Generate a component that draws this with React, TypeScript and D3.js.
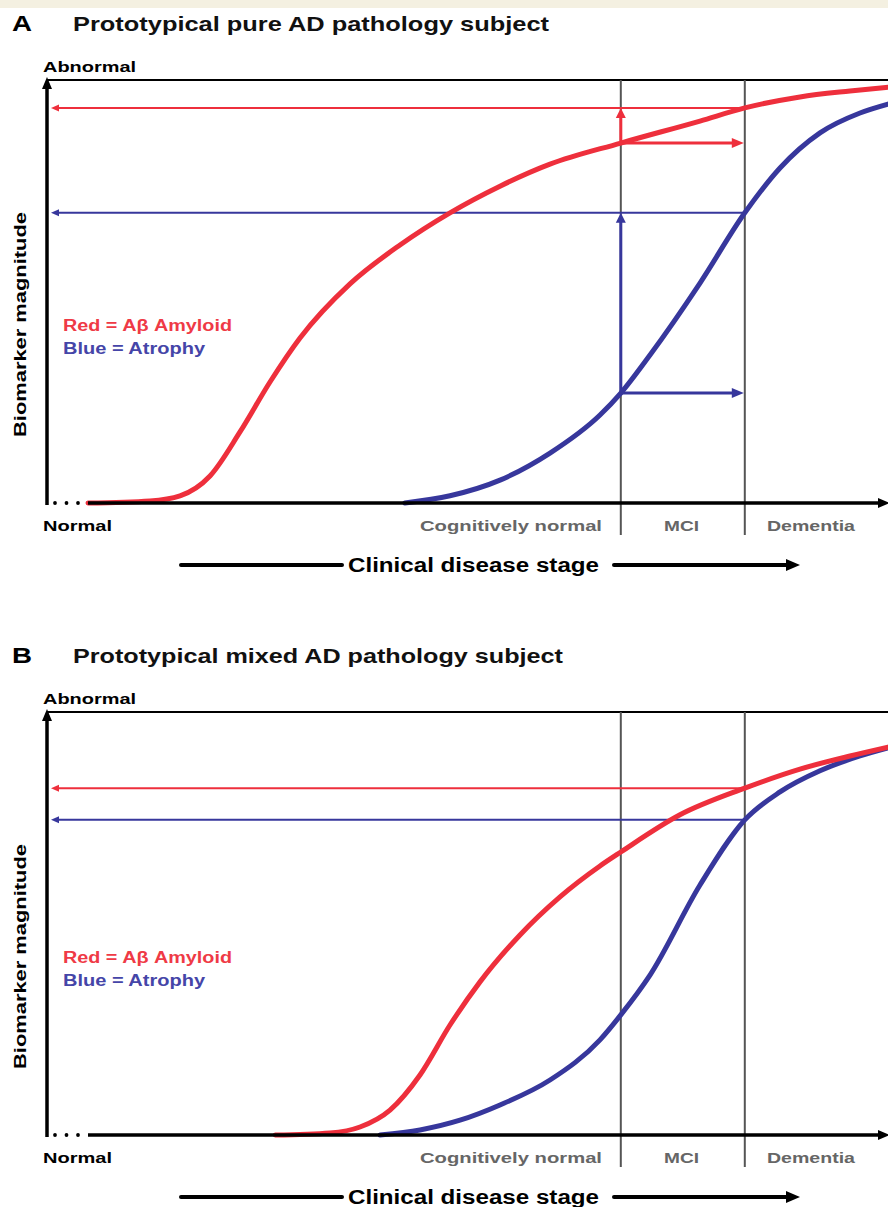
import React from "react";
import * as d3 from "d3";

// ---------- data ----------
const panelLetters = ["A", "B"];
const panelTitles = [
  "Prototypical pure AD pathology subject",
  "Prototypical mixed AD pathology subject",
];
const stageLabels = ["Cognitively normal", "MCI", "Dementia"];
const stageBounds = [66.6, 82.1]; // MCI onset, Dementia onset (stage units 0..100)
const legendLabels = ["Red = A\u03b2 Amyloid", "Blue = Atrophy"];
const yAxisTop = "Abnormal";
const yAxisBottom = "Normal";
const yTitle = "Biomarker magnitude";
const xTitle = "Clinical disease stage";

// Panel A (pure AD)
const pureAmyloidX = [0, 7.75, 11.5, 15.25, 19, 22.75, 26.5, 32.75, 39, 45.25, 51.5, 57.75, 66.6, 76.5, 82.1, 89, 95.25, 100];
const pureAmyloidY = [0, 0.005, 0.017, 0.064, 0.168, 0.286, 0.39, 0.518, 0.61, 0.686, 0.749, 0.801, 0.851, 0.903, 0.934, 0.96, 0.974, 0.983];
const pureAtrophyX = [39.6, 45.25, 51.5, 57.75, 64, 66.6, 70.25, 76.5, 82.1, 86.5, 91.5, 96.5, 100];
const pureAtrophyY = [0, 0.017, 0.054, 0.118, 0.208, 0.26, 0.35, 0.52, 0.686, 0.792, 0.875, 0.922, 0.943];

// Panel B (mixed AD)
const mixedAmyloidX = [23.4, 30.25, 34, 37.75, 41.5, 45.25, 49, 54, 59, 64, 66.6, 74, 82.1, 89, 95.25, 100];
const mixedAmyloidY = [0, 0.005, 0.019, 0.059, 0.142, 0.26, 0.362, 0.473, 0.563, 0.636, 0.669, 0.757, 0.82, 0.865, 0.896, 0.917];
const mixedAtrophyX = [36.5, 41.5, 46.5, 51.5, 57.75, 64, 66.6, 70.25, 76.5, 82.1, 86.5, 91.5, 96.5, 100];
const mixedAtrophyY = [0, 0.012, 0.035, 0.071, 0.13, 0.225, 0.284, 0.378, 0.591, 0.745, 0.811, 0.861, 0.896, 0.915];

// Arrow levels (biomarker at MCI onset -> at dementia onset)
const pureAmyloidAtMCI = 0.851;
const pureAmyloidAtDementia = 0.934;
const pureAtrophyAtMCI = 0.26;
const pureAtrophyAtDementia = 0.686;
const mixedAmyloidAtDementia = 0.82;
const mixedAtrophyAtDementia = 0.745;

// ---------- style ----------
const RED = "#ee2f3c";
const BLUE = "#37379c";
const LEG_RED = "#ef3a46";
const LEG_BLUE = "#4545a8";
const GREY = "#555";
const FONT = "'Liberation Sans', Arial, Helvetica, sans-serif";

const W = 888;
const H = 1207;

const zip = (xs: number[], ys: number[]) => xs.map((x, i) => [x, ys[i]] as [number, number]);

function Arrow({ x1, y1, x2, y2, color, width, head }: any) {
  const ang = Math.atan2(y2 - y1, x2 - x1);
  const L = head[0], Hw = head[1];
  const bx = x2 - L * Math.cos(ang), by = y2 - L * Math.sin(ang);
  const px = -Math.sin(ang) * Hw, py = Math.cos(ang) * Hw;
  return (
    <g>
      <line x1={x1} y1={y1} x2={bx + 1 * Math.cos(ang)} y2={by + 1 * Math.sin(ang)} stroke={color} strokeWidth={width} />
      <path d={`M${x2},${y2}L${bx + px},${by + py}L${bx - px},${by - py}Z`} fill={color} />
    </g>
  );
}

function T({ children, tl, ...rest }: any) {
  return (
    <text fontFamily={FONT} fontWeight="bold" textLength={tl} lengthAdjust="spacingAndGlyphs" {...rest}>
      {children}
    </text>
  );
}

function Panel({ idx, offY }: { idx: number; offY: number }) {
  const x = d3.scaleLinear().domain([0, 100]).range([88, 888]);
  const y = d3.scaleLinear().domain([0, 1]).range([503, 80]);
  const line = d3
    .line<[number, number]>()
    .x((d) => x(d[0]))
    .y((d) => y(d[1]))
    .curve(d3.curveMonotoneX);

  const amyloid = idx === 0 ? zip(pureAmyloidX, pureAmyloidY) : zip(mixedAmyloidX, mixedAmyloidY);
  const atrophy = idx === 0 ? zip(pureAtrophyX, pureAtrophyY) : zip(mixedAtrophyX, mixedAtrophyY);
  const redLevel = idx === 0 ? pureAmyloidAtDementia : mixedAmyloidAtDementia;
  const blueLevel = idx === 0 ? pureAtrophyAtDementia : mixedAtrophyAtDementia;

  const xM = x(stageBounds[0]);
  const xD = x(stageBounds[1]);
  const axisX = 47;
  const axisY = y(0);
  const topY = y(1);

  return (
    <g transform={`translate(0,${offY})`}>
      <T x={12} y={31} fontSize={22} fill="#000" tl={20}>
        {panelLetters[idx]}
      </T>
      <T x={73} y={31} fontSize={21} fill="#111" tl={idx === 0 ? 476 : 490}>
        {panelTitles[idx]}
      </T>
      <T x={43} y={72} fontSize={14.5} fill="#000" tl={93}>
        {yAxisTop}
      </T>

      {/* top frame line */}
      <line x1={axisX} y1={topY} x2={W} y2={topY} stroke="#000" strokeWidth={2} />

      {/* stage boundaries */}
      {[xM, xD].map((sx, i) => (
        <line key={i} x1={sx} y1={topY} x2={sx} y2={535} stroke={GREY} strokeWidth={2} />
      ))}

      {/* level lines to y axis */}
      <Arrow x1={xD} y1={y(redLevel)} x2={51} y2={y(redLevel)} color={RED} width={2} head={[8, 3.5]} />
      <Arrow x1={xD} y1={y(blueLevel)} x2={51} y2={y(blueLevel)} color={BLUE} width={2} head={[8, 3.5]} />

      {idx === 0 && (
        <g>
          <Arrow x1={xM} y1={y(pureAmyloidAtMCI)} x2={xM} y2={y(pureAmyloidAtDementia)} color={RED} width={3} head={[10, 5]} />
          <Arrow x1={xM} y1={y(pureAmyloidAtMCI)} x2={xD - 1} y2={y(pureAmyloidAtMCI)} color={RED} width={3} head={[12, 5]} />
          <Arrow x1={xM} y1={y(pureAtrophyAtMCI)} x2={xM} y2={y(pureAtrophyAtDementia)} color={BLUE} width={3} head={[10, 5]} />
          <Arrow x1={xM} y1={y(pureAtrophyAtMCI)} x2={xD - 1} y2={y(pureAtrophyAtMCI)} color={BLUE} width={3} head={[12, 5]} />
        </g>
      )}

      {/* curves */}
      <path d={line(atrophy) || ""} fill="none" stroke={BLUE} strokeWidth={5} strokeLinecap="round" />
      <path d={line(amyloid) || ""} fill="none" stroke={RED} strokeWidth={5} strokeLinecap="round" />

      {/* axes */}
      <line x1={axisX} y1={axisY + 2} x2={axisX} y2={topY + 6} stroke="#000" strokeWidth={3.5} />
      <path d={`M${axisX},${topY - 3}L${axisX - 5},${topY + 9}L${axisX + 5},${topY + 9}Z`} fill="#000" />
      <line x1={88} y1={axisY} x2={W - 6} y2={axisY} stroke="#000" strokeWidth={3.5} />
      <path d={`M${W + 2},${axisY}L${W - 10},${axisY - 5}L${W - 10},${axisY + 5}Z`} fill="#000" />
      {[55, 66.5, 78].map((cx, i) => (
        <circle key={i} cx={cx} cy={axisY} r={1.9} fill="#000" />
      ))}

      <T x={43} y={531} fontSize={14.5} fill="#000" tl={69}>
        {yAxisBottom}
      </T>
      <T x={420} y={531} fontSize={14.5} fill="#666" tl={182}>
        {stageLabels[0]}
      </T>
      <T x={664} y={531} fontSize={14.5} fill="#666" tl={35}>
        {stageLabels[1]}
      </T>
      <T x={767} y={531} fontSize={14.5} fill="#666" tl={88}>
        {stageLabels[2]}
      </T>

      {/* x title with arrow */}
      <line x1={181} y1={565} x2={342} y2={565} stroke="#000" strokeWidth={4} strokeLinecap="round" />
      <T x={348} y={572} fontSize={20} fill="#000" tl={251}>
        {xTitle}
      </T>
      <line x1={614} y1={565} x2={790} y2={565} stroke="#000" strokeWidth={4} strokeLinecap="round" />
      <path d={`M800,565L786,559L786,571Z`} fill="#000" />

      {/* y title */}
      <T transform={`translate(26,${437}) rotate(-90)`} x={0} y={0} fontSize={16} fill="#000" tl={225}>
        {yTitle}
      </T>

      {/* legend */}
      <T x={63} y={331} fontSize={16} fill={LEG_RED} tl={169}>
        {legendLabels[0]}
      </T>
      <T x={63} y={354} fontSize={16} fill={LEG_BLUE} tl={142}>
        {legendLabels[1]}
      </T>
    </g>
  );
}

export default function App() {
  return (
    <svg
      width={W}
      height={H}
      viewBox={`0 0 ${W} ${H}`}
      style={{ position: "absolute", left: 0, top: 0, background: "#fff" }}
    >
      <rect x={0} y={0} width={W} height={H} fill="#fff" />
      <rect x={0} y={0} width={W} height={8} fill="#f4f0e1" />
      <Panel idx={0} offY={0} />
      <Panel idx={1} offY={632} />
    </svg>
  );
}
